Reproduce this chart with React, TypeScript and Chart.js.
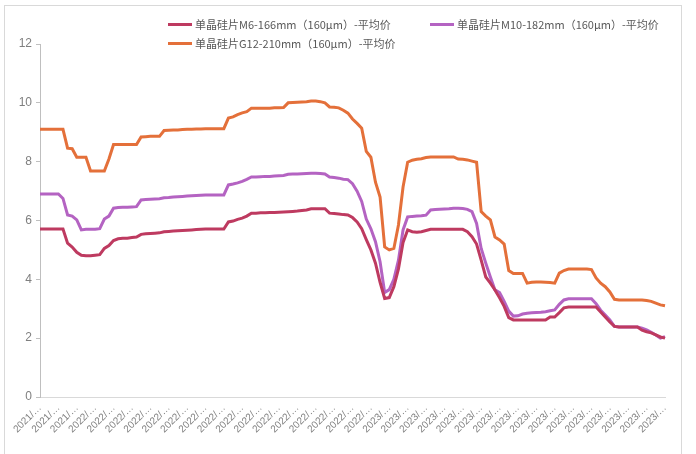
import React, { useEffect, useRef } from "react";
import { Chart, registerables } from "chart.js";

Chart.register(...registerables);

// Year of each data point (weekly-ish samples); axis shows "YYYY/…" every 4th point
const yearSpans: [string, number][] = [
  ["2021", 12],
  ["2022", 64],
  ["2023", 61],
];
const categories: string[] = yearSpans.flatMap(([y, n]) => Array.from({ length: n }, () => `${y}/…`));

const seriesNames = [
  "单晶硅片M6-166mm（160μm）-平均价",
  "单晶硅片M10-182mm（160μm）-平均价",
  "单晶硅片G12-210mm（160μm）-平均价",
];
const seriesColors = ["#BE3A60", "#B463C2", "#E4703A"];

const m6: number[] = [
  5.71, 5.71, 5.71, 5.71, 5.71, 5.71, 5.23, 5.10, 4.92, 4.82,
  4.80, 4.80, 4.82, 4.84, 5.05, 5.15, 5.32, 5.38, 5.40, 5.40,
  5.42, 5.44, 5.53, 5.55, 5.56, 5.57, 5.58, 5.62, 5.63, 5.64,
  5.65, 5.66, 5.67, 5.68, 5.69, 5.70, 5.71, 5.71, 5.71, 5.71,
  5.71, 5.95, 5.98, 6.04, 6.08, 6.15, 6.25, 6.25, 6.26, 6.26,
  6.27, 6.27, 6.28, 6.29, 6.30, 6.31, 6.32, 6.34, 6.36, 6.40,
  6.40, 6.40, 6.40, 6.25, 6.24, 6.22, 6.20, 6.19, 6.10, 5.95,
  5.72, 5.35, 5.00, 4.55, 3.90, 3.35, 3.38, 3.75, 4.35, 5.25,
  5.68, 5.62, 5.60, 5.62, 5.66, 5.70, 5.70, 5.70, 5.70, 5.70,
  5.70, 5.70, 5.70, 5.62, 5.45, 5.20, 4.65, 4.08, 3.87, 3.64,
  3.37, 3.08, 2.70, 2.62, 2.62, 2.62, 2.62, 2.62, 2.62, 2.62,
  2.62, 2.72, 2.72, 2.87, 3.03, 3.06, 3.06, 3.06, 3.06, 3.06,
  3.06, 3.06, 2.89, 2.72, 2.55, 2.40, 2.38, 2.38, 2.38, 2.38,
  2.38, 2.27, 2.22, 2.18, 2.11, 2.04, 2.00,
];

const m10: number[] = [
  6.90, 6.90, 6.90, 6.90, 6.90, 6.75, 6.19, 6.15, 6.02, 5.68,
  5.70, 5.70, 5.70, 5.72, 6.05, 6.15, 6.42, 6.44, 6.45, 6.45,
  6.46, 6.47, 6.70, 6.71, 6.72, 6.73, 6.74, 6.77, 6.78, 6.80,
  6.81, 6.82, 6.83, 6.84, 6.85, 6.86, 6.87, 6.87, 6.87, 6.87,
  6.87, 7.21, 7.24, 7.28, 7.33, 7.40, 7.48, 7.48, 7.49, 7.50,
  7.50, 7.51, 7.52, 7.53, 7.57, 7.58, 7.58, 7.59, 7.60, 7.61,
  7.61, 7.60, 7.58, 7.48, 7.46, 7.44, 7.40, 7.39, 7.25, 7.00,
  6.65, 6.05, 5.72, 5.28, 4.60, 3.55, 3.65, 4.00, 4.65, 5.68,
  6.12, 6.14, 6.15, 6.16, 6.18, 6.36, 6.37, 6.38, 6.39, 6.40,
  6.42, 6.42, 6.41, 6.38, 6.30, 5.90, 5.05, 4.55, 4.08, 3.64,
  3.55, 3.25, 2.92, 2.75, 2.76, 2.82, 2.85, 2.86, 2.87, 2.88,
  2.90, 2.93, 2.96, 3.15, 3.30, 3.34, 3.34, 3.34, 3.34, 3.34,
  3.34, 3.17, 2.95, 2.79, 2.62, 2.40, 2.38, 2.38, 2.38, 2.38,
  2.38, 2.34, 2.28, 2.20, 2.11, 2.00, 2.05,
];

const g12: number[] = [
  9.10, 9.10, 9.10, 9.10, 9.10, 9.10, 8.46, 8.44, 8.15, 8.15,
  8.15, 7.68, 7.68, 7.68, 7.68, 8.09, 8.58, 8.58, 8.58, 8.58,
  8.58, 8.58, 8.84, 8.85, 8.86, 8.86, 8.86, 9.06, 9.07, 9.08,
  9.08, 9.09, 9.10, 9.10, 9.11, 9.11, 9.12, 9.12, 9.12, 9.12,
  9.12, 9.48, 9.52, 9.60, 9.66, 9.70, 9.82, 9.82, 9.82, 9.82,
  9.82, 9.83, 9.83, 9.84, 10.00, 10.01, 10.02, 10.03, 10.04, 10.06,
  10.06, 10.04, 10.00, 9.86, 9.85, 9.83, 9.75, 9.65, 9.45, 9.30,
  9.14, 8.35, 8.15, 7.30, 6.80, 5.10, 5.00, 5.05, 5.85, 7.14,
  7.98, 8.05, 8.08, 8.10, 8.14, 8.16, 8.16, 8.16, 8.16, 8.16,
  8.16, 8.09, 8.08, 8.06, 8.02, 7.98, 6.30, 6.15, 6.02, 5.44,
  5.34, 5.20, 4.30, 4.20, 4.20, 4.20, 3.87, 3.90, 3.91, 3.91,
  3.90, 3.89, 3.87, 4.21, 4.30, 4.35, 4.35, 4.35, 4.35, 4.35,
  4.33, 4.05, 3.87, 3.75, 3.57, 3.32, 3.30, 3.30, 3.30, 3.30,
  3.30, 3.30, 3.28, 3.25, 3.19, 3.13, 3.10,
];

const yTicks = [0, 2, 4, 6, 8, 10, 12];

export default function App() {
  const canvasRef = useRef<HTMLCanvasElement | null>(null);

  useEffect(() => {
    document.body.style.margin = "0";
    const canvas = canvasRef.current;
    if (!canvas) return;
    const series = [m6, m10, g12];
    const chart = new Chart(canvas, {
      type: "line",
      data: {
        labels: categories,
        datasets: series.map((d, i) => ({
          label: seriesNames[i],
          data: d,
          borderColor: seriesColors[i],
          backgroundColor: seriesColors[i],
          borderWidth: 3,
          pointRadius: 0,
          tension: 0,
          fill: false,
        })),
      },
      options: {
        animation: false,
        responsive: false,
        maintainAspectRatio: false,
        layout: { padding: { left: 0, top: 44, right: 31, bottom: 4 } },
        plugins: {
          legend: { display: false },
          tooltip: { enabled: false },
        },
        scales: {
          x: {
            type: "category",
            offset: false,
            grid: { display: false, drawTicks: false },
            border: { display: true, color: "#D9D9D9", width: 1 },
            afterFit: (axis: any) => {
              axis.height = 53;
            },
            ticks: {
              autoSkip: false,
              maxRotation: 45,
              minRotation: 45,
              padding: 5,
              color: "#7F7F7F",
              font: { size: 10, family: "Liberation Sans, Arial, sans-serif" },
              callback: (_v: any, idx: number) => (idx % 4 === 0 ? categories[idx] : null),
            },
          },
          y: {
            min: 0,
            max: 12,
            afterBuildTicks: (axis: any) => {
              axis.ticks = yTicks.map((v) => ({ value: v }));
            },
            afterFit: (axis: any) => {
              axis.width = 40;
            },
            grid: {
              display: true,
              drawOnChartArea: false,
              drawTicks: true,
              tickLength: 4,
              color: "#BFBFBF",
            },
            border: { display: true, color: "#BFBFBF", width: 1 },
            ticks: {
              padding: 4,
              color: "#7F7F7F",
              font: { size: 12, family: "Liberation Sans Narrow, Arial, sans-serif" },
            },
          },
        },
      } as any,
    });
    return () => chart.destroy();
  }, []);

  const legendItem = (i: number, left: number, top: number) => (
    <div
      key={i}
      style={{
        position: "absolute",
        left,
        top,
        display: "flex",
        alignItems: "center",
        whiteSpace: "nowrap",
        fontFamily: "'Noto Sans CJK SC', sans-serif",
        fontSize: 11,
        color: "#595959",
        lineHeight: "14px",
      }}
    >
      <span
        style={{
          display: "inline-block",
          width: 24,
          height: 3,
          background: seriesColors[i],
          marginRight: 3,
        }}
      />
      <span>{seriesNames[i]}</span>
    </div>
  );

  return (
    <div style={{ position: "relative", width: 696, height: 454, overflow: "hidden", background: "#fff" }}>
      <div
        style={{
          position: "absolute",
          left: 4,
          top: 5,
          width: 678,
          height: 470,
          border: "1px solid #D9D9D9",
          boxSizing: "border-box",
        }}
      />
      <canvas ref={canvasRef} width={696} height={454} style={{ position: "absolute", left: 0, top: 0 }} />
      {legendItem(0, 168, 17)}
      {legendItem(1, 430, 17)}
      {legendItem(2, 168, 36)}
    </div>
  );
}
